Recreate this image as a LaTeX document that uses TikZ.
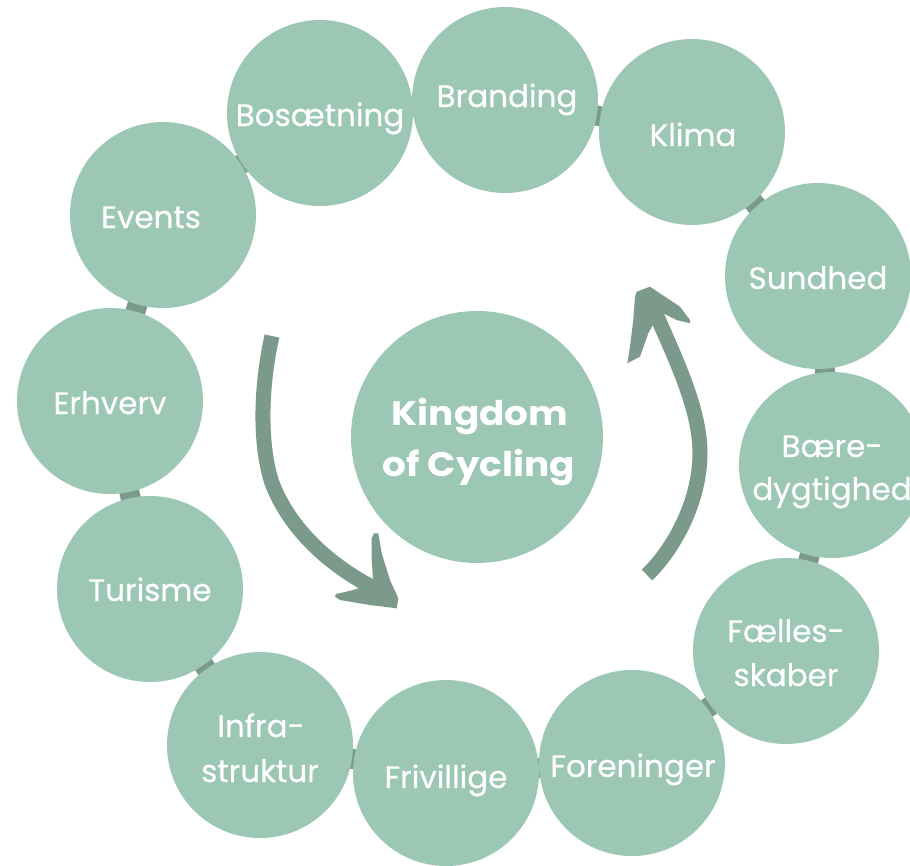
\documentclass[tikz,border=0pt]{standalone}
\usepackage{fontspec}
\setmainfont{Poppins}
\pgfdeclarelayer{bg}
\pgfsetlayers{bg,main}
\definecolor{bubc}{HTML}{9BC7B4}
\definecolor{linkc}{HTML}{7B9A8C}
\begin{document}
\begin{tikzpicture}[x=1pt,y=-1pt,
  bub/.style={circle, fill=bubc, minimum size=186pt, inner sep=0pt},
  hubstyle/.style={circle, fill=bubc, minimum size=252pt, inner sep=0pt},
  lbl/.style={anchor=base, text=white, inner sep=0pt, font=\fontsize{31}{31}\selectfont\addfontfeature{FakeBold=0.5}},
  hublbl/.style={anchor=base, text=white, inner sep=0pt, font=\fontsize{34}{34}\selectfont\bfseries\addfontfeature{FakeStretch=1.1}},
  link/.style={draw=linkc, line width=20pt},
  shaft/.style={draw=linkc, line width=15pt},
  head/.style={fill=linkc}]
\useasboundingbox (0,0) rectangle (910,865);
% bubbles
\node[bub] (events)   at (163,215) {};
\node[bub] (bos)      at (320,113) {};
\node[bub] (branding) at (505,100) {};
\node[bub] (klima)    at (692,132) {};
\node[bub] (sundhed)  at (818,276) {};
\node[bub] (baere)    at (832,465) {};
\node[bub] (faelles)  at (786,651) {};
\node[bub] (foren)    at (632,763) {};
\node[bub] (friv)     at (446,773) {};
\node[bub] (infra)    at (260,745) {};
\node[bub] (turisme)  at (150,589) {};
\node[bub] (erhverv)  at (110,401) {};
\node[hubstyle] (hub) at (477,437) {};
% ring links
\begin{pgfonlayer}{bg}
\draw[link] (events.center) -- (bos.center) -- (branding.center) -- (klima.center)
  -- (sundhed.center) -- (baere.center) -- (faelles.center) -- (foren.center)
  -- (friv.center) -- (infra.center) -- (turisme.center) -- (erhverv.center)
  -- (events.center);
\end{pgfonlayer}
% labels
\node[lbl] (tbos)   at (320,126) {Bosætning};
\node[lbl] (tbrand) at (507,107) {Branding};
\node[lbl] (tklima) at (693,146) {Klima};
\node[lbl] (tev)    at (151,228) {Events};
\node[lbl] (tsund)  at (818,289) {Sundhed};
\node[lbl] (terh)   at (110,414) {Erhverv};
\node[lbl] (tturi)  at (150,601) {Turisme};
\node[lbl] (tinfa)  at (261,737) {Infra-};
\node[lbl] (tinfb)  at (260,782) {struktur};
\node[lbl] (tfriv)  at (446,788) {Frivillige};
\node[lbl] (tfor)   at (633,777) {Foreninger};
\node[lbl] (tfaa)   at (786,642) {Fælles-};
\node[lbl] (tfab)   at (786,686) {skaber};
\node[lbl] (tbaa)   at (832,457) {Bære-};
\node[lbl] (tbab)   at (832,500) {dygtighed};
\node[hublbl] (thuba) at (480,425) {Kingdom};
\node[hublbl] (thubb) at (479,476) {of Cycling};
% left arrow
\coordinate (la0) at (272,336);
\coordinate (la1) at (272,483);
\coordinate (la2) at (372,587);
\draw[shaft] (la0) .. controls (262,380) and (258,440) .. (la1)
  .. controls (290,530) and (330,565) .. (la2);
\fill[head] (378.3,533.3) -- (381.7,553.3) -- (390,580) -- (398.3,598.3) -- (396.7,608.3)
  -- (370,605) -- (340,600) -- (335,596.7) -- (336,594) -- (353.3,590) -- (373.3,583.3)
  -- (371.7,560) -- (371.7,538.3) -- (374,533.3) -- cycle;
% right arrow
\coordinate (ra0) at (647,575);
\coordinate (ra1) at (700,453);
\coordinate (ra2) at (656,314);
\draw[shaft] (ra0) .. controls (675,548) and (700,500) .. (ra1)
  .. controls (700,408) and (674,356) .. (ra2);
\fill[head] (636.7,291.7) -- (650,286.7) -- (680,306.7) -- (690,320) -- (690,323.3)
  -- (676.7,320) -- (660,311.7) -- (648.3,333.3) -- (640,356.7) -- (627.3,363.3)
  -- (630,346.7) -- (633.3,320) -- (635,296.7) -- cycle;
\end{tikzpicture}
\end{document}
